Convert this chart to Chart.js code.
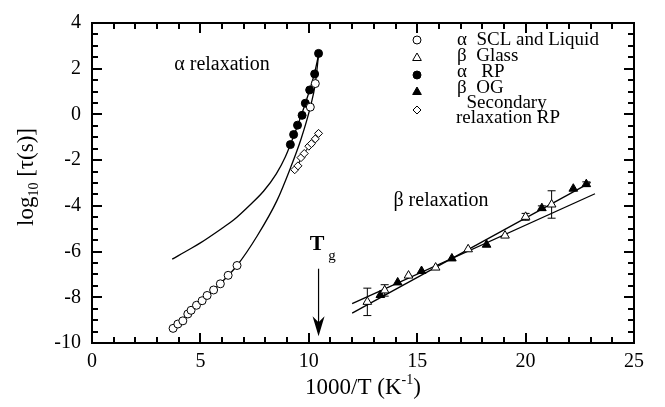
<!DOCTYPE html>
<html><head><meta charset="utf-8">
<script src="https://cdn.jsdelivr.net/npm/chart.js@4.4.1/dist/chart.umd.min.js"></script>
<style>html,body{margin:0;padding:0;background:#fff}#c{display:block}</style>
</head><body>
<canvas id="c" width="665" height="407"></canvas>
<script>
// ---- data ----
const xTickValues = [0, 5, 10, 15, 20, 25];
const yTickValues = [-10, -8, -6, -4, -2, 0, 2, 4];

const alphaSCL_x = [3.74, 3.96, 4.19, 4.42, 4.57, 4.82, 5.08, 5.31, 5.61, 5.92, 6.28, 6.69, 10.07, 10.30];
const alphaSCL_y = [-9.36, -9.17, -9.03, -8.73, -8.57, -8.35, -8.15, -7.92, -7.68, -7.41, -7.04, -6.61, 0.32, 1.35];

const alphaRP_x = [9.15, 9.30, 9.48, 9.69, 9.84, 10.04, 10.27, 10.45];
const alphaRP_y = [-1.32, -0.88, -0.47, -0.04, 0.49, 1.07, 1.77, 2.67];

const secRP_x = [9.35, 9.50, 9.64, 9.79, 10.0, 10.12, 10.30, 10.45];
const secRP_y = [-2.42, -2.25, -1.89, -1.71, -1.39, -1.28, -1.07, -0.83];

const betaGlass_x = [12.7, 13.5, 14.6, 15.85, 17.35, 19.05, 20.0, 21.2];
const betaGlass_y = [-8.2, -7.7, -7.05, -6.7, -5.9, -5.3, -4.48, -3.94];
const betaGlass_err = [0.6, 0.25, 0, 0, 0, 0, 0.15, 0.6];

const betaOG_x = [13.3, 14.1, 15.2, 16.6, 18.2, 20.75, 22.2, 22.8];
const betaOG_y = [-7.9, -7.35, -6.85, -6.3, -5.7, -4.1, -3.25, -3.05];
const betaOG_err = [0, 0, 0, 0, 0, 0.1, 0, 0.1];

// fit curves
const fitSCL_x = [3.74, 4.2, 4.8, 5.3, 5.9, 6.69, 7.61, 8.53, 9.15, 9.65, 10.07, 10.30, 10.45];
const fitSCL_y = [-9.36, -9.02, -8.37, -7.93, -7.42, -6.61, -5.33, -3.77, -2.35, -1.05, 0.32, 1.35, 2.6];
const fitRP_x = [3.7, 4.5, 5.0, 6.0, 6.53, 7.3, 7.92, 8.5, 8.92, 9.3, 9.65, 10.0, 10.25, 10.45];
const fitRP_y = [-6.33, -5.9, -5.62, -4.98, -4.62, -3.95, -3.35, -2.6, -1.85, -0.95, -0.05, 0.95, 1.75, 2.6];
const fitA_x = [12.0, 23.0];
const fitA_y = [-8.69, -2.97];
const fitB_x = [12.0, 23.2];
const fitB_y = [-8.28, -3.47];

const legendLabels = ['α  SCL and Liquid', 'β  Glass', 'α   RP', 'β  OG', ['  Secondary', 'relaxation RP']];

const FONT = '"Liberation Serif", "Times New Roman", serif';
const pts = (xs, ys) => xs.map((x, i) => ({x, y: ys[i]}));

const lineDs = (xs, ys, extra) => Object.assign({
  data: pts(xs, ys), showLine: true, borderColor: '#000', borderWidth: 1.3,
  pointRadius: 0, fill: false, order: 2, cubicInterpolationMode: 'monotone'
}, extra || {});

const markerStyles = [
  {pointStyle: 'circle', radius: 4, bg: '#fff'},
  {pointStyle: 'triangle', radius: 5, bg: '#fff'},
  {pointStyle: 'circle', radius: 4, bg: '#000'},
  {pointStyle: 'triangle', radius: 5, bg: '#000'},
  {pointStyle: 'rectRot', radius: 4, bg: '#fff'}
];
const markerDs = (xs, ys, m, extra) => Object.assign({
  data: pts(xs, ys), showLine: false, pointStyle: m.pointStyle, pointRadius: m.radius,
  pointBackgroundColor: m.bg, pointBorderColor: '#000', pointBorderWidth: 1, order: 0
}, extra || {});

const datasets = [
  lineDs(fitSCL_x, fitSCL_y),
  lineDs(fitRP_x, fitRP_y),
  lineDs(fitA_x, fitA_y, {cubicInterpolationMode: 'default', tension: 0}),
  lineDs(fitB_x, fitB_y, {cubicInterpolationMode: 'default', tension: 0}),
  markerDs(alphaSCL_x, alphaSCL_y, markerStyles[0]),
  markerDs(betaGlass_x, betaGlass_y, markerStyles[1], {errors: betaGlass_err}),
  markerDs(alphaRP_x, alphaRP_y, markerStyles[2]),
  markerDs(betaOG_x, betaOG_y, markerStyles[3], {errors: betaOG_err}),
  markerDs(secRP_x, secRP_y, markerStyles[4], {showLine: true, borderColor: '#000', borderWidth: 1, order: 1})
];

function drawFrameAndTicks(chart) {
  const ctx = chart.ctx, xs = chart.scales.x, ys = chart.scales.y;
  const L0 = Math.round(xs.getPixelForValue(0)), R0 = Math.round(xs.getPixelForValue(25));
  const T0 = Math.round(ys.getPixelForValue(4)), B0 = Math.round(ys.getPixelForValue(-10));
  ctx.save();
  ctx.fillStyle = '#000';
  // frame
  ctx.fillRect(L0 - 1, T0 - 1, R0 - L0 + 2, 2);
  ctx.fillRect(L0 - 1, B0 - 1, R0 - L0 + 2, 2);
  ctx.fillRect(L0 - 1, T0 - 1, 2, B0 - T0 + 2);
  ctx.fillRect(R0 - 1, T0 - 1, 2, B0 - T0 + 2);
  // inward ticks on all four sides
  for (let v = 0; v <= 25; v += 1) {
    const px = Math.round(xs.getPixelForValue(v));
    const L = v % 5 === 0 ? 10 : 6;
    ctx.fillRect(px - 1, B0 - L, 2, L);
    ctx.fillRect(px - 1, T0, 2, L);
  }
  for (let k = 0; k <= 28; k++) {
    const py = Math.round(ys.getPixelForValue(-10 + k * 0.5));
    const L = (k % 4 === 0) ? 10 : 6;
    ctx.fillRect(L0, py - 1, L, 2);
    ctx.fillRect(R0 - L, py - 1, L, 2);
  }
  ctx.restore();
}

const decor = {
  id: 'decor',
  beforeDatasetsDraw(chart) {
    const ctx = chart.ctx, xs = chart.scales.x, ys = chart.scales.y;
    ctx.save();
    ctx.strokeStyle = '#000'; ctx.lineWidth = 1;
    chart.data.datasets.forEach(ds => {
      if (!ds.errors) return;
      ds.data.forEach((p, i) => {
        const e = ds.errors[i]; if (!e) return;
        const px = xs.getPixelForValue(p.x);
        const y1 = ys.getPixelForValue(p.y + e), y2 = ys.getPixelForValue(p.y - e);
        ctx.beginPath();
        ctx.moveTo(px, y1); ctx.lineTo(px, y2);
        ctx.moveTo(px - 4, y1); ctx.lineTo(px + 4, y1);
        ctx.moveTo(px - 4, y2); ctx.lineTo(px + 4, y2);
        ctx.stroke();
      });
    });
    ctx.restore();
  },
  afterDraw(chart) {
    const ctx = chart.ctx, xs = chart.scales.x, ys = chart.scales.y;
    const L0 = xs.getPixelForValue(0), R0 = xs.getPixelForValue(25);
    drawFrameAndTicks(chart);

    ctx.save();
    ctx.fillStyle = '#000';
    ctx.textBaseline = 'middle';
    const tf = 23;
    {
      const parts = [['1000/T (K', tf, 0], ['-1', 14, -8], [')', tf, 0]];
      let w = 0;
      parts.forEach(p => { ctx.font = p[1] + 'px ' + FONT; w += ctx.measureText(p[0]).width; });
      let x = (L0 + R0) / 2 - w / 2; const y = 388;
      ctx.textAlign = 'left';
      parts.forEach(p => { ctx.font = p[1] + 'px ' + FONT; ctx.fillText(p[0], x, y + p[2]); x += ctx.measureText(p[0]).width; });
    }
    {
      ctx.save();
      ctx.translate(27, 177);
      ctx.rotate(-Math.PI / 2);
      const parts = [['log', tf, 0], ['10', 14, 7], [' [τ(s)]', tf, 0]];
      let w = 0;
      parts.forEach(p => { ctx.font = p[1] + 'px ' + FONT; w += ctx.measureText(p[0]).width; });
      let x = -w / 2;
      ctx.textAlign = 'left';
      parts.forEach(p => { ctx.font = p[1] + 'px ' + FONT; ctx.fillText(p[0], x, p[2]); x += ctx.measureText(p[0]).width; });
      ctx.restore();
    }
    ctx.font = '20px ' + FONT;
    ctx.textAlign = 'center';
    ctx.fillText('α relaxation', 222, 65);
    ctx.fillText('β relaxation', 441, 201);
    ctx.font = 'bold 22px ' + FONT;
    ctx.fillText('T', 317, 244);
    ctx.font = '15px ' + FONT;
    ctx.fillText('g', 332, 256);
    const ax = xs.getPixelForValue(10.45);
    const ay1 = ys.getPixelForValue(-6.75), ay2 = ys.getPixelForValue(-9.7);
    ctx.strokeStyle = '#000';
    ctx.lineWidth = 1.2;
    ctx.beginPath(); ctx.moveTo(ax, ay1); ctx.lineTo(ax, ay2 - 10); ctx.stroke();
    ctx.beginPath(); ctx.moveTo(ax, ay2); ctx.lineTo(ax - 6, ay2 - 20); ctx.lineTo(ax, ay2 - 14); ctx.lineTo(ax + 6, ay2 - 20); ctx.closePath(); ctx.fill();

    const lx = 417, tx = 457;
    const markerRows = [40, 58, 75, 92, 110];
    const textRows = [40, 56, 72, 88, [103, 118]];
    ctx.font = '19px ' + FONT;
    ctx.textAlign = 'left';
    legendLabels.forEach((lab, i) => {
      const m = markerStyles[i];
      ctx.fillStyle = m.bg; ctx.strokeStyle = '#000'; ctx.lineWidth = 1;
      Chart.helpers.drawPoint(ctx, {pointStyle: m.pointStyle, radius: m.radius, borderWidth: 1}, lx, markerRows[i]);
      ctx.fillStyle = '#000';
      if (Array.isArray(lab)) {
        ctx.fillText(lab[0], tx, textRows[i][0]);
        ctx.fillText(lab[1], tx - 1, textRows[i][1]);
      } else {
        ctx.fillText(lab, tx, textRows[i]);
      }
    });
    ctx.restore();
  }
};

new Chart(document.getElementById('c'), {
  type: 'scatter',
  data: {datasets},
  options: {
    responsive: false, animation: false, devicePixelRatio: 1,
    layout: {padding: {left: 0, right: 31, top: 14, bottom: 0}},
    plugins: {legend: {display: false}, tooltip: {enabled: false}},
    scales: {
      x: {
        type: 'linear', min: 0, max: 25,
        afterBuildTicks: s => { s.ticks = xTickValues.map(v => ({value: v})); },
        afterFit: s => { s.height = 64; },
        grid: {display: false, drawTicks: false},
        border: {display: true, color: '#000', width: 2},
        ticks: {color: '#000', font: {family: FONT, size: 20}, padding: 7, maxRotation: 0}
      },
      y: {
        type: 'linear', min: -10, max: 4,
        afterBuildTicks: s => { s.ticks = yTickValues.map(v => ({value: v})); },
        afterFit: s => { s.width = 92; },
        grid: {display: false, drawTicks: false},
        border: {display: true, color: '#000', width: 2},
        ticks: {color: '#000', font: {family: FONT, size: 20}, padding: 11}
      }
    }
  },
  plugins: [decor]
});
</script>
</body></html>
